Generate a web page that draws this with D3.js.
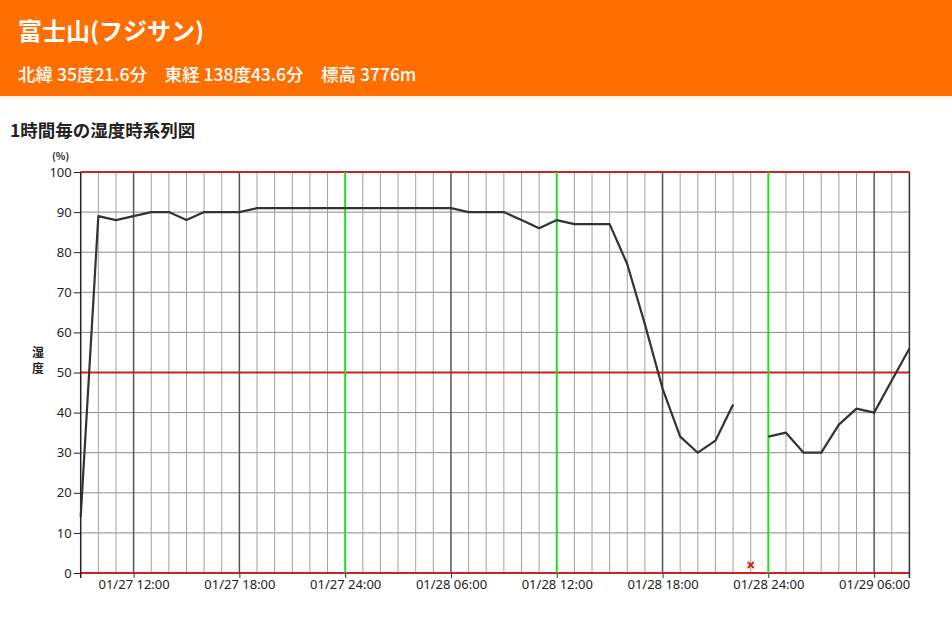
<!DOCTYPE html>
<html><head><meta charset="utf-8">
<script src="https://cdn.jsdelivr.net/npm/d3@7"></script>
<style>
body{margin:0;background:#fff;font-family:"Noto Sans CJK JP","Noto Sans",sans-serif;}
</style></head>
<body><svg id="c" width="952" height="623"></svg>
<script>
const title = "富士山(フジサン)";
const subtitle = "北緯 35度21.6分　東経 138度43.6分　標高 3776m";
const heading = "1時間毎の湿度時系列図";
// hourly values starting 01/27 09:00 (index 0) to 01/29 08:00 (index 47); null = missing
const humidity = [14,89,88,89,90,90,88,90,90,90,91,91,91,91,91,91,91,91,91,91,91,91,
  90,90,90,88,86,88,87,87,87,77,62,46,34,30,33,42,null,34,35,30,30,37,41,40,48,56];
const xTickIdx = [3,9,15,21,27,33,39,45];
const xTickLabels = ["01/27 12:00","01/27 18:00","01/27 24:00","01/28 06:00","01/28 12:00","01/28 18:00","01/28 24:00","01/29 06:00"];
const greenIdx = [15,27,39];
const yTicks = [0,10,20,30,40,50,60,70,80,90,100];
const redY = [0,50,100];

const svg = d3.select("#c");
svg.append("rect").attr("x",0).attr("y",0).attr("width",952).attr("height",96).attr("fill","#ff6e00");
svg.append("rect").attr("x",0).attr("y",96).attr("width",952).attr("height",4).attr("fill","#fdf6ea");
svg.append("text").attr("x",18).attr("y",40).attr("fill","#fff").attr("font-size",24).attr("font-weight","bold").text(title);
svg.append("text").attr("x",18).attr("y",81).attr("fill","#fff").attr("font-size",17.5).attr("font-weight",500).text(subtitle);
svg.append("text").attr("x",10).attr("y",137).attr("fill","#222").attr("font-size",17.5).attr("font-weight","bold").text(heading);

const x = d3.scaleLinear().domain([0,47]).range([80.7,909.4]);
const y = d3.scaleLinear().domain([0,100]).range([573,172]);
const g = svg.append("g");

// horizontal grid
g.selectAll(".hg").data(yTicks.filter(v=>!redY.includes(v))).join("line")
  .attr("x1",x(0)).attr("x2",x(47)).attr("y1",d=>y(d)).attr("y2",d=>y(d))
  .attr("stroke","#8a8a8a").attr("stroke-width",1);
// vertical grid
const hours = d3.range(1,47);
g.selectAll(".vg").data(hours.filter(h=>!greenIdx.includes(h))).join("line")
  .attr("x1",d=>x(d)).attr("x2",d=>x(d)).attr("y1",y(100)).attr("y2",y(0))
  .attr("stroke",d=>xTickIdx.includes(d)?"#555":"#a0a0a0").attr("stroke-width",d=>xTickIdx.includes(d)?1.5:1);
// red lines
g.selectAll(".rl").data(redY).join("line")
  .attr("x1",x(0)).attr("x2",x(47)).attr("y1",d=>y(d)).attr("y2",d=>y(d))
  .attr("stroke","#cc2222").attr("stroke-width",1.8);
// green lines
g.selectAll(".gl").data(greenIdx).join("line")
  .attr("x1",d=>x(d)).attr("x2",d=>x(d)).attr("y1",y(100)).attr("y2",y(0))
  .attr("stroke","#22dd22").attr("stroke-width",2);
// axes borders
g.append("line").attr("x1",x(0)).attr("x2",x(0)).attr("y1",y(100)).attr("y2",y(0)+5).attr("stroke","#222").attr("stroke-width",1.5);
g.append("line").attr("x1",x(47)).attr("x2",x(47)).attr("y1",y(100)).attr("y2",y(0)+5).attr("stroke","#333").attr("stroke-width",1.5);

// y axis
const ya = d3.axisLeft(y).tickValues(yTicks).tickSize(7).tickPadding(2);
const yg = g.append("g").attr("transform",`translate(${x(0)},0)`).call(ya);
yg.select(".domain").remove();
yg.selectAll("text").attr("font-size",13).attr("fill","#222").attr("font-family","'Noto Sans',sans-serif");
yg.selectAll("line").attr("stroke","#222");

// x axis
const xa = d3.axisBottom(x).tickValues(xTickIdx).tickFormat((d,i)=>xTickLabels[i]).tickSize(5).tickPadding(2);
const xg = g.append("g").attr("transform",`translate(0,${y(0)})`).call(xa);
xg.select(".domain").remove();
xg.selectAll("text").attr("font-size",13).attr("fill","#222").attr("font-family","'Noto Sans',sans-serif");
xg.selectAll("line").attr("stroke","#333");

svg.append("text").attr("x",52).attr("y",160).attr("font-size",10).attr("fill","#222").attr("font-weight","bold").text("(%)");
svg.append("text").attr("x",38).attr("y",357).attr("font-size",12).attr("font-weight","bold").attr("text-anchor","middle").attr("fill","#222").text("湿");
svg.append("text").attr("x",38).attr("y",373).attr("font-size",12).attr("font-weight","bold").attr("text-anchor","middle").attr("fill","#222").text("度");

// data line
const line = d3.line().defined(d=>d!==null).x((d,i)=>x(i)).y(d=>y(d));
g.append("path").datum(humidity).attr("d",line).attr("fill","none").attr("stroke","#333").attr("stroke-width",2.2).attr("stroke-linejoin","round");

// missing markers
const missing = humidity.map((d,i)=>d===null?i:-1).filter(i=>i>=0);
missing.forEach(i=>{
  const cx = x(i), cy = y(0)-8;
  g.append("path").attr("d",`M${cx-3},${cy-3}L${cx+3},${cy+3}M${cx+3},${cy-3}L${cx-3},${cy+3}`)
    .attr("stroke","#e02020").attr("stroke-width",2);
});
</script></body></html>
